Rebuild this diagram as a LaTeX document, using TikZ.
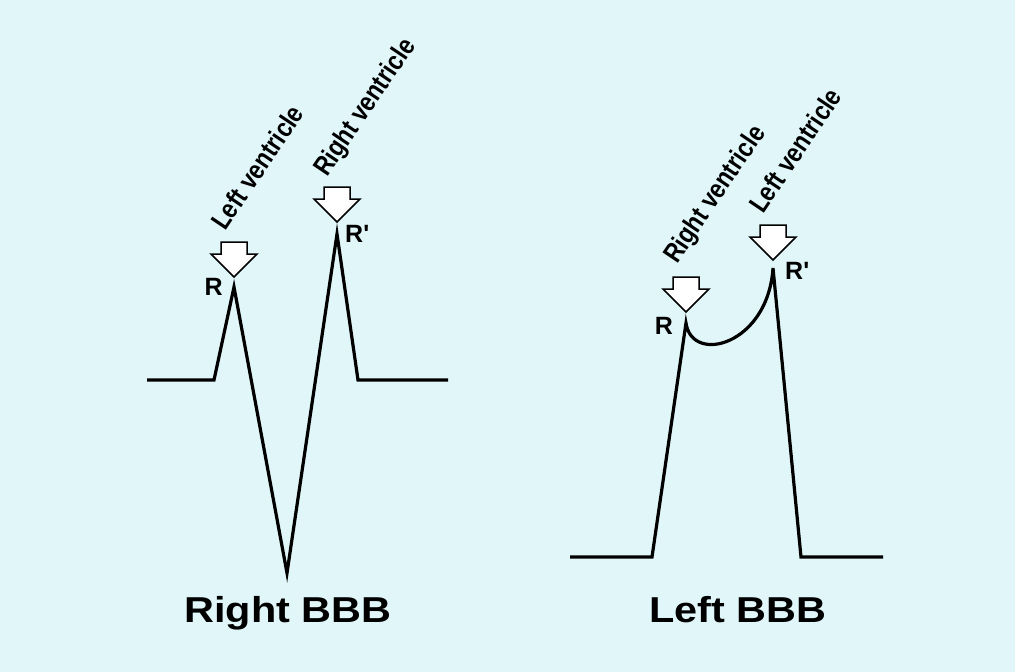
\documentclass[tikz,border=0pt]{standalone}
\usepackage{fontspec}
\setmainfont{Liberation Sans}
\newfontfamily\titlefont[FakeStretch=1.15]{Liberation Sans Bold}
\newfontfamily\ventfont[FakeStretch=0.85]{Liberation Sans Bold}
\usetikzlibrary{positioning}

\definecolor{bgcyan}{HTML}{E0F6F8}

\tikzset{
  wave/.style={line width=3.2pt, line join=miter, line cap=butt},
  peaklabel/.style={inner sep=0pt, font=\bfseries\fontsize{25}{25}\selectfont},
  ventlabel/.style={inner sep=0pt, anchor=base west, rotate=56,
    font=\ventfont\fontsize{27}{27}\selectfont},
  bbblabel/.style={inner sep=0pt, anchor=base, font=\titlefont\fontsize{36}{36}\selectfont},
  blockarrow/.pic={
    \draw[fill=white, line width=1.5pt, line join=miter]
      (0,0) -- (-23,-23) -- (-13,-23) -- (-13,-35) -- (13,-35) -- (13,-23) -- (23,-23) -- cycle;
  }
}

\begin{document}
\begin{tikzpicture}[x=1pt, y=-1pt]

  % --- fondo ---
  \fill[bgcyan] (0,0) rectangle (1015,672);
  \useasboundingbox (0,0) rectangle (1015,672);

  % --- Right BBB: onda ---
  \coordinate (rR)  at (234,287);
  \coordinate (rS)  at (287,573);
  \coordinate (rRp) at (337,234);
  \draw[wave] (147,380) -- (214,380) -- (rR) -- (rS) -- (rRp) -- (358,380) -- (448,380);

  % --- Right BBB: etichette ---
  \node[peaklabel, left=11pt of rR]  (rRlab)  {R};
  \node[peaklabel, right=8pt of rRp] (rRplab) {R\textquotesingle};
  \pic at ([yshift=10pt]rR)  {blockarrow};
  \pic at ([yshift=12pt]rRp) {blockarrow};
  \node[ventlabel] (rlv) at ([xshift=-9pt, yshift=55pt]rR)  {Left ventricle};
  \node[ventlabel] (rrv) at ([xshift=-10pt, yshift=56pt]rRp) {Right ventricle};
  \node[bbblabel] (rbbb) at (288,622) {Right BBB};

  % --- Left BBB: onda ---
  \coordinate (lR)  at (686,323);
  \coordinate (lRp) at (773,268);
  \draw[wave] (570,557) -- (652,557) -- (lR)
    .. controls (692,365) and (768,345) .. (lRp) -- (801,557) -- (883,557);

  % --- Left BBB: etichette ---
  \node[peaklabel, left=13pt of lR, yshift=-3pt]  (lRlab)  {R};
  \node[peaklabel, right=12pt of lRp, yshift=-3pt] (lRplab) {R\textquotesingle};
  \pic at ([yshift=11pt]lR)  {blockarrow};
  \pic at ([yshift=8pt]lRp)  {blockarrow};
  \node[ventlabel] (lrv) at ([xshift=-9pt, yshift=58pt]lR)  {Right ventricle};
  \node[ventlabel] (llv) at ([xshift=-10pt, yshift=53pt]lRp) {Left ventricle};
  \node[bbblabel] (lbbb) at (738,622) {Left BBB};

\end{tikzpicture}
\end{document}
